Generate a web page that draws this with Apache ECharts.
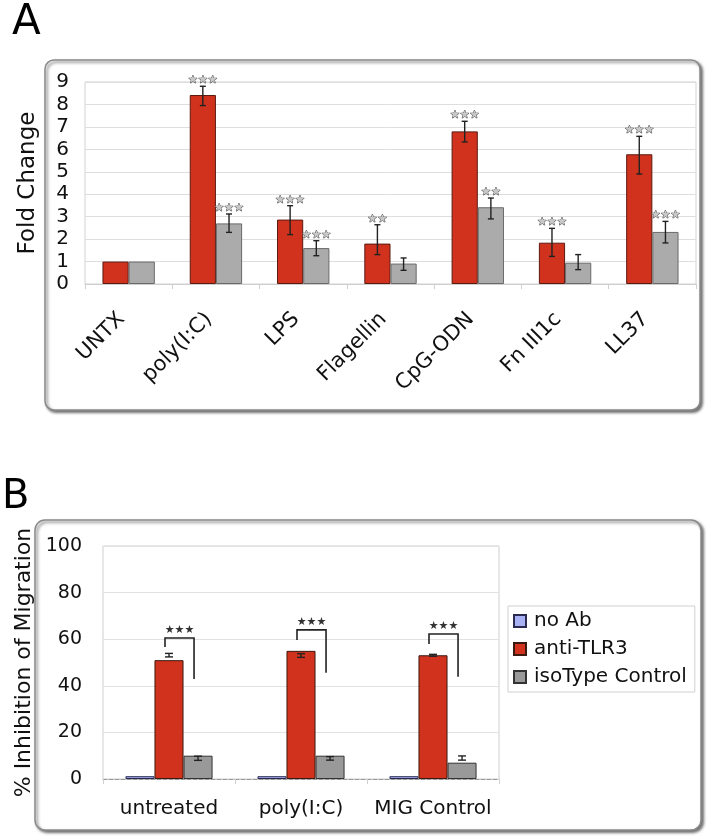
<!DOCTYPE html>
<html>
<head>
<meta charset="utf-8">
<script src="https://cdn.jsdelivr.net/npm/echarts@6/dist/echarts.min.js"></script>
<style>html,body{margin:0;padding:0;background:#fff}#c{width:708px;height:840px}</style>
</head>
<body>
<div id="c"></div>
<script>
// ---------- Panel A data ----------
const catsA = ['UNTX', 'poly(I:C)', 'LPS', 'Flagellin', 'CpG-ODN', 'Fn III1c', 'LL37'];
const yTicksA = [0, 1, 2, 3, 4, 5, 6, 7, 8, 9];
const redA = [1.0, 8.42, 2.87, 1.80, 6.80, 1.84, 5.78];
const grayA = [1.0, 2.70, 1.60, 0.91, 3.42, 0.95, 2.32];
const redLowA = [null, 7.95, 2.20, 1.31, 6.33, 1.23, 4.90];
const redHighA = [null, 8.81, 3.49, 2.64, 7.25, 2.48, 6.58];
const grayLowA = [null, 2.30, 1.26, 0.61, 2.90, 0.64, 1.83];
const grayHighA = [null, 3.12, 1.93, 1.16, 3.83, 1.31, 2.79];
const starsRedA = ['', '★★★', '★★★', '★★', '★★★', '★★★', '★★★'];
const starsGrayA = ['', '★★★', '★★★', '', '★★', '', '★★★'];

// ---------- Panel B data ----------
const catsB = ['untreated', 'poly(I:C)', 'MIG Control'];
const yTicksB = [0, 20, 40, 60, 80, 100];
const seriesNamesB = ['no Ab', 'anti-TLR3', 'isoType Control'];
const noAbB = [1.2, 1.2, 1.2];
const antiB = [51, 55, 53.1];
const isoB = [10, 10, 7];
const antiLowB = [52.4, 52.2, 52.7];
const antiHighB = [53.9, 53.8, 53.5];
const isoLowB = [8.0, 8.1, 8.1];
const isoHighB = [9.8, 9.6, 9.9];
const bracketTopB = [60.5, 64, 62.2];
const bracketLeftEndB = [56.6, 59.7, 57.9];
const bracketRightEndB = [42.9, 45.6, 43.9];
const bracketStarsB = ['★★★', '★★★', '★★★'];

const FONT = 'DejaVu Sans';
const RED = '#d0321e', RED_B = '#5a1a10';
const GRAY_A = '#ababab', GRAY_B = '#999999';
const BLUE = '#a9b1f5';

const chart = echarts.init(document.getElementById('c'), null, {renderer: 'canvas'});

function errSeries(name, xi, yi, low, high, stars, nBars, idx, gapFrac, cap, starStyle) {
  return {
    type: 'custom', name: name, xAxisIndex: xi, yAxisIndex: yi, z: 10, silent: true,
    data: low.map((l, i) => [i, l, high[i], i]),
    encode: {x: 0, y: [1, 2]},
    renderItem: function (params, api) {
      const i = api.value(3);
      const lo = low[i], hi = high[i];
      const band = api.size([1, 0])[0];
      const bw = band * (1 - gapFrac) / nBars;
      const off = (idx - (nBars - 1) / 2) * bw;
      const c = api.coord([i, 0]);
      const x = c[0] + off;
      const children = [];
      let topY = null;
      if (lo != null && hi != null) {
        const yl = api.coord([i, lo])[1], yh = api.coord([i, hi])[1];
        topY = yh;
        const ls = {stroke: '#222', lineWidth: 1.4};
        children.push({type: 'line', shape: {x1: x, y1: yl, x2: x, y2: yh}, style: ls});
        children.push({type: 'line', shape: {x1: x - cap, y1: yl, x2: x + cap, y2: yl}, style: ls});
        children.push({type: 'line', shape: {x1: x - cap, y1: yh, x2: x + cap, y2: yh}, style: ls});
      }
      if (stars && stars[i] && topY != null) {
        children.push({type: 'text', x: x, y: topY - 6, style: Object.assign({
          text: stars[i], align: 'center', verticalAlign: 'middle'}, starStyle)});
      }
      return {type: 'group', children: children};
    }
  };
}

const starStyleA = {font: '11px ' + FONT, fill: '#c8c8c8', stroke: '#444', lineWidth: 0.9};

const option = {
  animation: false,
  backgroundColor: '#ffffff',
  graphic: {elements: [
    {type: 'rect', z: -10, shape: {x: 45, y: 60, width: 655, height: 350, r: 9},
      style: {fill: '#fff', stroke: '#8a8a8a', lineWidth: 1.5, shadowBlur: 3, shadowOffsetX: 2, shadowOffsetY: 2, shadowColor: 'rgba(0,0,0,0.55)'}},
    {type: 'rect', z: -10, shape: {x: 35, y: 520, width: 666, height: 310, r: 10},
      style: {fill: '#fff', stroke: '#8a8a8a', lineWidth: 1.5, shadowBlur: 3, shadowOffsetX: 2, shadowOffsetY: 2, shadowColor: 'rgba(0,0,0,0.55)'}},
    {type: 'text', x: 12, y: 23, style: {text: 'A', font: '42px ' + FONT, fill: '#000', verticalAlign: 'middle'}},
    {type: 'text', x: 2, y: 498, style: {text: 'B', font: '40px ' + FONT, fill: '#000', verticalAlign: 'middle'}}
  ]},
  legend: {
    data: seriesNamesB, orient: 'vertical', left: 508, top: 606,
    borderColor: '#d0d0d0', borderWidth: 1, padding: [5, 8, 5, 5],
    itemGap: 8, itemWidth: 12, itemHeight: 12, icon: 'rect',
    textStyle: {fontFamily: FONT, fontSize: 20, color: '#111', padding: [0, 0, 0, 3]},
    selectedMode: false
  },
  grid: [
    {left: 85, top: 82, width: 611, height: 202, show: true, borderColor: '#d2d2d2', borderWidth: 1},
    {left: 103, top: 546, width: 396, height: 233, show: true, borderColor: '#cfcfcf', borderWidth: 1}
  ],
  xAxis: [
    {type: 'category', gridIndex: 0, data: catsA,
      axisLine: {lineStyle: {color: '#cfcfcf'}},
      axisTick: {show: true, length: 5, lineStyle: {color: '#cfcfcf'}},
      axisLabel: {rotate: 45, margin: 25, padding: [0, 10, 0, 0], fontFamily: FONT, fontSize: 21, color: '#111', interval: 0}},
    {type: 'category', gridIndex: 1, data: catsB,
      axisLine: {lineStyle: {color: '#999', type: 'dashed'}},
      axisTick: {show: true, length: 5, lineStyle: {color: '#cfcfcf'}},
      axisLabel: {margin: 20, fontFamily: FONT, fontSize: 20, color: '#111', interval: 0}}
  ],
  yAxis: [
    {type: 'value', gridIndex: 0, min: yTicksA[0], max: yTicksA[yTicksA.length - 1], interval: 1,
      name: 'Fold Change', nameLocation: 'middle', nameRotate: 90, nameGap: 45,
      nameTextStyle: {fontFamily: FONT, fontSize: 23, color: '#111'},
      axisLine: {show: false}, axisTick: {show: false},
      splitLine: {lineStyle: {color: '#dedede'}},
      axisLabel: {margin: 16, fontFamily: FONT, fontSize: 20, color: '#111'}},
    {type: 'value', gridIndex: 1, min: yTicksB[0], max: yTicksB[yTicksB.length - 1], interval: 20,
      name: '% Inhibition of Migration', nameLocation: 'middle', nameRotate: 90, nameGap: 65,
      nameTextStyle: {fontFamily: FONT, fontSize: 22, color: '#111'},
      axisLine: {show: false}, axisTick: {show: false},
      splitLine: {lineStyle: {color: '#e2e2e2'}},
      axisLabel: {margin: 21, fontFamily: FONT, fontSize: 19, color: '#111'}}
  ],
  series: [
    {name: 'A-red', type: 'bar', xAxisIndex: 0, yAxisIndex: 0, data: redA, barGap: '0%', barCategoryGap: '40%',
      itemStyle: {color: RED, borderColor: RED_B, borderWidth: 1}},
    {name: 'A-gray', type: 'bar', xAxisIndex: 0, yAxisIndex: 0, data: grayA, barGap: '0%', barCategoryGap: '40%',
      itemStyle: {color: GRAY_A, borderColor: '#6a6a6a', borderWidth: 1}},
    errSeries('A-red-err', 0, 0, redLowA, redHighA, starsRedA, 2, 0, 0.4, 3, starStyleA),
    errSeries('A-gray-err', 0, 0, grayLowA, grayHighA, starsGrayA, 2, 1, 0.4, 3, starStyleA),

    {name: seriesNamesB[0], type: 'bar', xAxisIndex: 1, yAxisIndex: 1, data: noAbB, barGap: '0%', barCategoryGap: '34%',
      itemStyle: {color: BLUE, borderColor: '#2a2a50', borderWidth: 1}},
    {name: seriesNamesB[1], type: 'bar', xAxisIndex: 1, yAxisIndex: 1, data: antiB, barGap: '0%', barCategoryGap: '34%',
      itemStyle: {color: RED, borderColor: '#3a1a10', borderWidth: 1}},
    {name: seriesNamesB[2], type: 'bar', xAxisIndex: 1, yAxisIndex: 1, data: isoB, barGap: '0%', barCategoryGap: '34%',
      itemStyle: {color: GRAY_B, borderColor: '#333', borderWidth: 1}},
    errSeries('B-red-err', 1, 1, antiLowB, antiHighB, null, 3, 1, 0.34, 4, null),
    errSeries('B-gray-err', 1, 1, isoLowB, isoHighB, null, 3, 2, 0.34, 4, null),
    {
      type: 'custom', name: 'B-brackets', xAxisIndex: 1, yAxisIndex: 1, z: 11, silent: true,
      data: catsB.map((c, i) => [i, bracketTopB[i], bracketLeftEndB[i], bracketRightEndB[i]]),
      encode: {x: 0, y: [1, 2, 3]},
      renderItem: function (params, api) {
        const i = api.value(0);
        const band = api.size([1, 0])[0];
        const bw = band * (1 - 0.34) / 3;
        const cx = api.coord([i, 0])[0];
        const xl = cx - 4, xr = cx + bw - 4;
        const yt = api.coord([i, api.value(1)])[1];
        const yl = api.coord([i, api.value(2)])[1];
        const yr = api.coord([i, api.value(3)])[1];
        return {type: 'group', children: [
          {type: 'polyline', shape: {points: [[xl, yl], [xl, yt], [xr, yt], [xr, yr]]},
            style: {stroke: '#222', lineWidth: 1.6, fill: null}},
          {type: 'text', x: (xl + xr) / 2, y: yt - 8,
            style: {text: bracketStarsB[i], font: '11px ' + FONT, fill: '#333', align: 'center', verticalAlign: 'middle'}}
        ]};
      }
    }
  ]
};
chart.setOption(option);
</script>
</body>
</html>
